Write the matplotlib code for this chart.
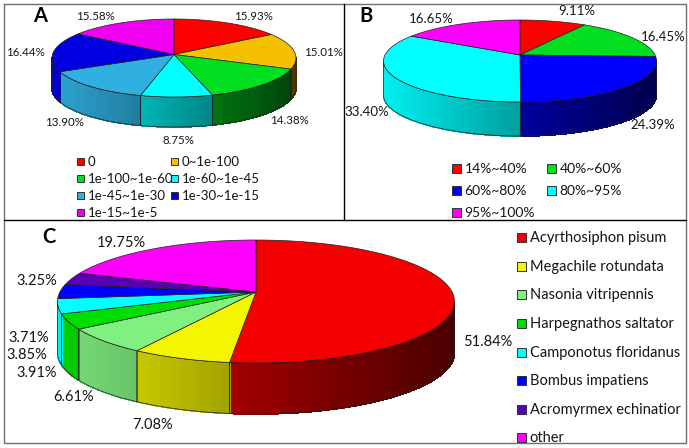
#!/usr/bin/env python
"""
Three pseudo-3D pies (A, B, C) in one framed figure.
run: python3 plot.py
"""

import numpy as np
import matplotlib
matplotlib.use("Agg")
import matplotlib.pyplot as plt
from matplotlib.collections import PolyCollection
from matplotlib.colors import to_rgb
from matplotlib.patches import Polygon, Rectangle

plt.rcParams['font.family'] = ['Lato', 'DejaVu Sans']

a_labels = ['0', '0~1e-100', '1e-100~1e-60', '1e-60~1e-45', '1e-45~1e-30', '1e-30~1e-15', '1e-15~1e-5']
a_values = [15.93, 15.01, 14.38, 8.75, 13.90, 16.44, 15.58]
a_colors = ['#ff0000', '#f5c000', '#00e020', '#00ffff', '#30b0e0', '#0000e0', '#f000f0']

b_labels = ['14%~40%', '40%~60%', '60%~80%', '80%~95%', '95%~100%']
b_values = [9.11, 16.45, 24.39, 33.40, 16.65]
b_colors = ['#ff0000', '#00e020', '#0000ff', '#00ffff', '#ff00ff']

c_labels = ['Acyrthosiphon pisum', 'Megachile rotundata', 'Nasonia vitripennis', 'Harpegnathos saltator',
            'Camponotus floridanus', 'Bombus impatiens', 'Acromyrmex echinatior', 'other']
c_values = [51.84, 7.08, 6.61, 3.91, 3.85, 3.71, 3.25, 19.75]
c_colors = ['#f50000', '#f5f500', '#80f080', '#00dd00', '#00ffff', '#0000ff', '#5a00b4', '#ff00ff']

# where the percent labels sit, pixels
a_text_pos = [(253, 17), (323, 52), (289, 121), (178, 140), (64, 122), (25, 53), (95, 17)]
b_text_pos = [(577, 11), (663, 37), (653, 125), (367, 112), (431, 19)]
c_text_pos = [(488, 342), (153, 425), (74, 397), (37, 373), (27, 355), (29, 338), (37, 281), (121, 243)]


def warp(theta, off):
    # the apex is not the centre of the ellipse, cast a ray from it to the rim
    sx, sy = np.sin(theta), -np.cos(theta)
    proj = off * sy
    s = -proj + np.sqrt(proj ** 2 - (off ** 2 - 1))
    t = np.arctan2(s * sx, -(off + s * sy))
    return theta + (t - theta + np.pi) % (2 * np.pi) - np.pi


def pie3d(ax, values, colors, cx, cy, rx, ry, depth, apex_y):
    edges = np.radians(np.concatenate([[0], np.cumsum(values)]) * 3.6)
    edges = warp(edges, (apex_y - cy) / ry)

    # side wall first, only the front half is seen
    for i in range(len(values)):
        lo = max(edges[i], np.pi / 2)
        hi = min(edges[i + 1], 3 * np.pi / 2)
        if hi <= lo:
            continue
        t = np.linspace(lo, hi, max(int((hi - lo) * rx / 1.5), 2))
        x = cx + rx * np.sin(t)
        y = cy - ry * np.cos(t)
        quads = []
        shades = []
        for j in range(len(t) - 1):
            quads.append([(x[j], y[j]), (x[j + 1], y[j + 1]),
                          (x[j + 1], y[j + 1] + depth), (x[j], y[j] + depth)])
            u = (x[j] + x[j + 1]) / 2
            f = 0.62 - 0.32 * (u - cx) / rx
            shades.append(np.array(to_rgb(colors[i])) * f)
        ax.add_collection(PolyCollection(quads, facecolors=shades, edgecolors=shades, linewidths=0.6,
                                         antialiaseds=False, zorder=2))
        outline = np.column_stack([np.r_[x, x[::-1]], np.r_[y, y[::-1] + depth]])
        ax.add_patch(Polygon(outline, closed=True, fill=False, edgecolor='#202020', linewidth=0.5, zorder=3))

    # top face
    for i in range(len(values)):
        t = np.linspace(edges[i], edges[i + 1], 80)
        pts = np.column_stack([cx + rx * np.sin(t), cy - ry * np.cos(t)])
        pts = np.vstack([[cx, apex_y], pts])
        ax.add_patch(Polygon(pts, closed=True, facecolor=colors[i], edgecolor='#202020', linewidth=0.5, zorder=4))


def percent_labels(ax, values, positions, font):
    for v, (x, y) in zip(values, positions):
        ax.text(x, y, '%.2f%%' % v, ha='center', va='center', fontsize=font, color='#151515', zorder=6)


def legend(ax, labels, colors, xs, ys, size, font):
    for i, name in enumerate(labels):
        x = xs[i % len(xs)]
        y = ys[i // len(xs)]
        ax.add_patch(Rectangle((x, y - size / 2), size, size, facecolor=colors[i],
                               edgecolor='#303030', linewidth=0.7, zorder=5))
        ax.text(x + size + 3.5, y, name, ha='left', va='center', fontsize=font, color='#151515', zorder=6)


def main():
    fig = plt.figure(figsize=(6.89, 4.48), dpi=100)
    ax = fig.add_axes([0, 0, 1, 1])
    ax.set_xlim(0, 689)
    ax.set_ylim(448, 0)
    ax.axis('off')

    # frame
    ax.plot([4, 686, 686, 4, 4], [4, 4, 443, 443, 4], color='#707070', linewidth=1.0, zorder=1)
    ax.plot([4, 686], [220, 220], color='black', linewidth=1.0, zorder=1)
    ax.plot([344, 344], [4, 220], color='black', linewidth=1.0, zorder=1)

    pie3d(ax, a_values, a_colors, 174, 58, 122, 39, 30, 54.5)
    pie3d(ax, b_values, b_colors, 520, 61, 136.5, 41, 34, 55)
    pie3d(ax, c_values, c_colors, 256, 301.5, 198.5, 61.5, 51, 292)

    percent_labels(ax, a_values, a_text_pos, 8.3)
    percent_labels(ax, b_values, b_text_pos, 9.5)
    percent_labels(ax, c_values, c_text_pos, 10.5)

    legend(ax, a_labels, a_colors, [77, 171], [162, 179, 196, 213], 7, 9.5)
    legend(ax, b_labels, b_colors, [452, 547], [169, 191, 213], 9, 10)
    legend(ax, c_labels, c_colors, [517], [238, 267, 295, 324, 353, 381, 410, 438], 9, 10.5)

    for name, x, y in [('A', 40, 15.5), ('B', 366, 15.5), ('C', 49, 237)]:
        ax.text(x, y, name, ha='center', va='center', fontsize=14.5, fontweight='bold', color='black', zorder=6)

    fig.savefig('out.png', dpi=100)


if __name__ == '__main__':
    main()
